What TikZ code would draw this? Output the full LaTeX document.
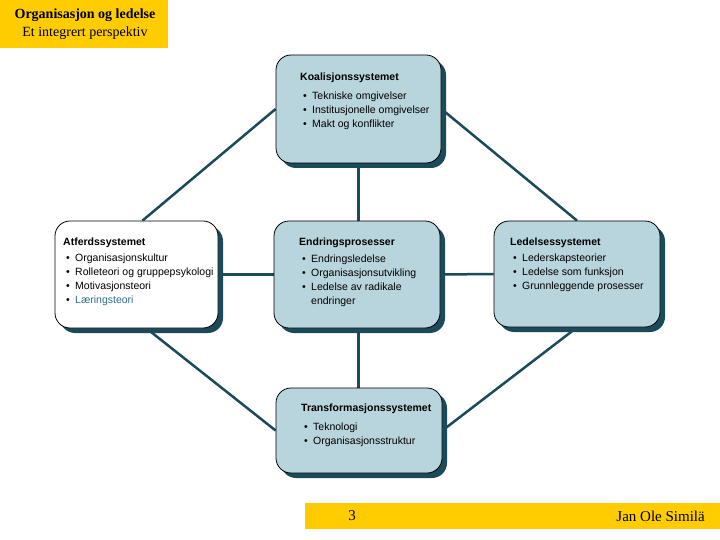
\documentclass[tikz,border=0pt]{standalone}
\usepackage{fontspec}
\setmainfont{Liberation Sans}
\newfontfamily\timesf{Liberation Serif}
\usetikzlibrary{shadows,backgrounds,calc}
\definecolor{boxfill}{HTML}{B8D4DC}
\definecolor{darkteal}{HTML}{1B4B5A}
\definecolor{goldbar}{HTML}{FFCC00}
\definecolor{learn}{HTML}{2E6F8C}
\newcommand\itm[1]{\hspace*{3pt}\makebox[9pt][l]{•}#1}
\tikzset{
  sysbox/.style={draw=black, line width=0.8pt, rounded corners=15pt, fill=boxfill, inner sep=0pt,
    drop shadow={shadow xshift=5pt, shadow yshift=-5pt, fill=darkteal, opacity=1}},
  boxtext/.style={anchor=north west, inner sep=0pt, align=left,
    font=\fontsize{10.5}{13.8}\selectfont},
  conn/.style={draw=darkteal, line width=2.5pt},
  goldbox/.style={fill=goldbar, anchor=north west, inner sep=0pt}
}
\begin{document}
\begin{tikzpicture}[x=1pt,y=-1pt]
\useasboundingbox (0,0) rectangle (720,540);
% header
\node[goldbox, minimum width=168pt, minimum height=48pt] (head) at (0,0) {};
\node[align=center, inner sep=0pt, font=\timesf\fontsize{14}{18}\selectfont] (headtxt) at (85,24)
  {\textbf{Organisasjon og ledelse}\\Et integrert perspektiv};
% footer
\node[goldbox, minimum width=415pt, minimum height=26pt] (foot) at (305,503) {};
\node[inner sep=0pt, font=\timesf\fontsize{15}{17}\selectfont] (pnum) at (352,516) {3};
\node[inner sep=0pt, anchor=east, font=\timesf\fontsize{15}{17}\selectfont] (author) at (705,516) {Jan Ole Similä};
% boxes
\node[sysbox, minimum width=165pt, minimum height=108pt] (koal) at (358.5,109) {};
\node[sysbox, fill=white, minimum width=163pt, minimum height=107pt] (atf) at (136.5,274.5) {};
\node[sysbox, minimum width=166pt, minimum height=107pt] (endr) at (357,274.5) {};
\node[sysbox, minimum width=166pt, minimum height=106pt] (led) at (577,274) {};
\node[sysbox, minimum width=166pt, minimum height=85pt] (trans) at (359,430.5) {};
% connectors
\begin{scope}[on background layer]
\fill[white] (0,0) rectangle (720,540);
\draw[conn] (koal.west) -- ($(atf.north)+(6,0)$);
\draw[conn] (koal.east) -- (led.north);
\draw[conn] (koal.south) -- (koal.south |- endr.north);
\draw[conn] (atf.east) -- (endr.west);
\draw[conn] (endr.east) -- (led.west);
\draw[conn] (koal.south |- endr.south) -- (koal.south |- trans.north);
\draw[conn] ($(atf.south)+(10,0)$) -- (trans.west);
\draw[conn] (led.south) -- (trans.east);
\end{scope}
% texts
\node[boxtext] (koaltxt) at (300,73) {\textbf{Koalisjonssystemet}\\[5pt]\itm{Tekniske omgivelser}\\\itm{Institusjonelle omgivelser}\\\itm{Makt og konflikter}};
\node[boxtext] (atftxt) at (63,238) {\textbf{Atferdssystemet}\\[2pt]\itm{Organisasjonskultur}\\\itm{Rolleteori og gruppepsykologi}\\\itm{Motivasjonsteori}\\\itm{\textcolor{learn}{Læringsteori}}};
\node[boxtext] (endrtxt) at (299,238) {\textbf{Endringsprosesser}\\[3pt]\itm{Endringsledelse}\\\itm{Organisasjonsutvikling}\\\itm{Ledelse av radikale}\\\hspace*{12pt}endringer};
\node[boxtext] (ledtxt) at (510,238) {\textbf{Ledelsessystemet}\\[2pt]\itm{Lederskapsteorier}\\\itm{Ledelse som funksjon}\\\itm{Grunnleggende prosesser}};
\node[boxtext] (transtxt) at (301,404) {\textbf{Transformasjonssystemet}\\[5pt]\itm{Teknologi}\\\itm{Organisasjonsstruktur}};
\end{tikzpicture}
\end{document}
